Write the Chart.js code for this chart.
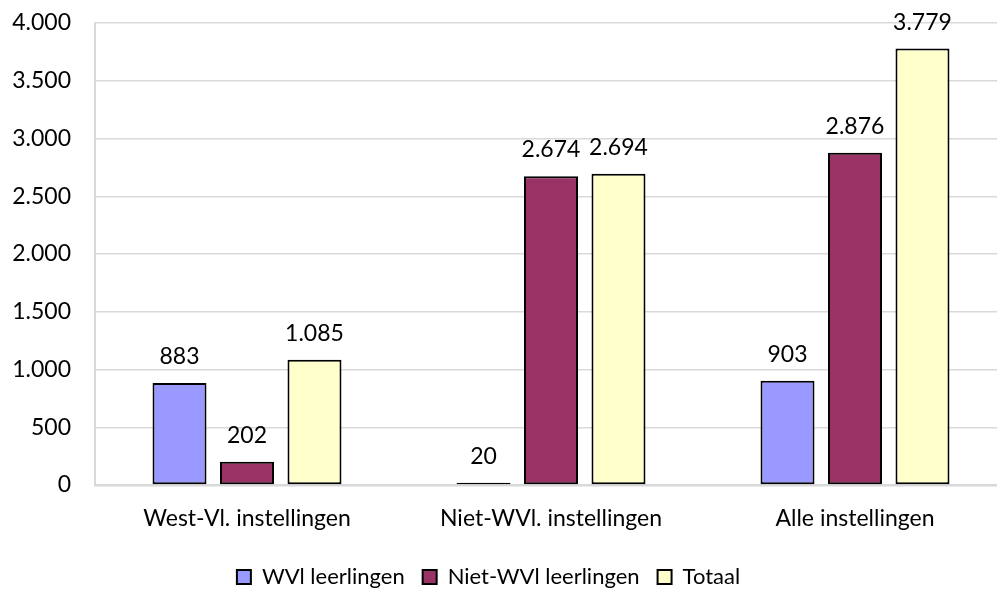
<!DOCTYPE html>
<html>
<head>
<meta charset="utf-8">
<script src="https://cdn.jsdelivr.net/npm/chart.js@4/dist/chart.umd.min.js"></script>
<style>
  html, body { margin: 0; padding: 0; background: #fff; overflow: hidden; }
  #wrap { width: 1010px; height: 598px; }
</style>
</head>
<body>
<div id="wrap"><canvas id="myChart"></canvas></div>
<script>
const categories = ["West-Vl. instellingen", "Niet-WVl. instellingen", "Alle instellingen"];
const seriesNames = ["WVl leerlingen", "Niet-WVl leerlingen", "Totaal"];
const wvlValues = [883, 20, 903];
const nietWvlValues = [202, 2674, 2876];
const totaalValues = [1085, 2694, 3779];
const seriesColors = ["#9999FF", "#993366", "#FFFFCC"];

const ctx = document.getElementById("myChart");

function fmt(v) {
  return String(v).replace(/\B(?=(\d{3})+(?!\d))/g, ".");
}

// value labels above each bar
const barLabels = {
  id: "barLabels",
  afterDatasetsDraw(chart) {
    const c = chart.ctx;
    c.save();
    c.font = "23px Lato";
    c.fillStyle = "#000";
    c.textAlign = "center";
    c.textBaseline = "alphabetic";
    chart.data.datasets.forEach((ds, i) => {
      chart.getDatasetMeta(i).data.forEach((bar, j) => {
        c.fillText(fmt(ds.data[j]), bar.x, bar.y - 19);
      });
    });
    c.restore();
  },
};

// the legend sits a bit left of the canvas centre
const legendShift = {
  id: "legendShift",
  afterLayout(chart) {
    chart.legend.left -= 15;
    chart.legend.right -= 15;
  },
};

Chart.defaults.font.family = "Lato";
Chart.defaults.font.size = 22;
Chart.defaults.color = "#000";

const data = {
  labels: categories,
  datasets: [wvlValues, nietWvlValues, totaalValues].map((vals, i) => ({
    label: seriesNames[i],
    data: vals,
    backgroundColor: seriesColors[i],
    borderColor: "#000",
    borderWidth: 2,
    borderSkipped: false,
    categoryPercentage: 0.666,
    barPercentage: 0.8,
  })),
};

new Chart(ctx, {
  type: "bar",
  data: data,
  plugins: [barLabels, legendShift],
  options: {
    responsive: true,
    maintainAspectRatio: false,
    animation: false,
    layout: { padding: { top: 23, right: 3, left: 0, bottom: 0 } },
    plugins: {
      tooltip: { enabled: false },
      legend: {
        position: "bottom",
        labels: { boxWidth: 14, boxHeight: 14, padding: 18, color: "#000" },
      },
    },
    scales: {
      x: {
        grid: { display: false, drawTicks: false },
        border: { color: "#d9d9d9", width: 2.5 },
        ticks: { padding: 20, color: "#000", font: { size: 23 } },
        afterFit(scale) {
          scale.height = 63;
        },
      },
      y: {
        min: 0,
        max: 4000,
        ticks: { stepSize: 500, padding: 24, color: "#000", font: { size: 23 }, callback: (v) => fmt(v) },
        grid: { color: "#d9d9d9", lineWidth: 1.5, drawTicks: false },
        border: { color: "#d9d9d9", width: 2 },
        afterFit(scale) {
          scale.width = 95;
          scale.paddingTop = 0;
          scale.paddingBottom = 0;
        },
      },
    },
  },
});
</script>
</body>
</html>
